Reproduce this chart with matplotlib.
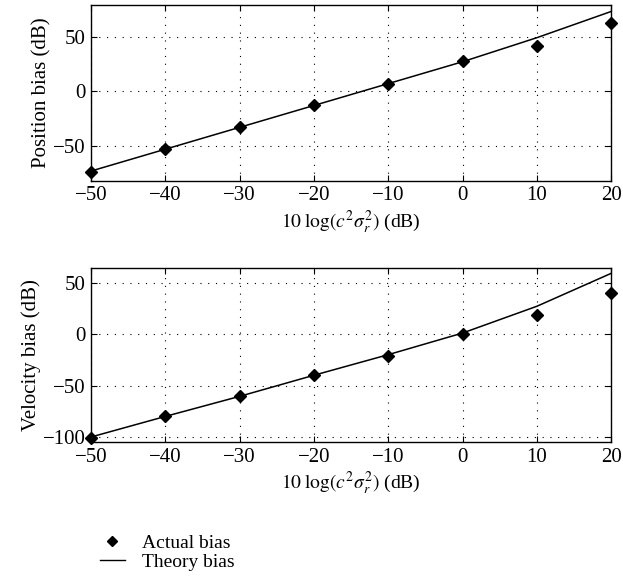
import numpy as np
import matplotlib.pyplot as plt
from matplotlib.lines import Line2D

# noise level in dB
x_db = [-50, -40, -30, -20, -10, 0, 10, 20]

pos_actual = [-73.5, -53, -33, -13, 6.5, 27.5, 41.5, 62.5]
pos_theory = [-73, -53, -33, -13, 7, 27, 49, 73]

vel_actual = [-101, -80, -60.5, -40, -21, 0, 19, 39.5]
vel_theory = [-100, -80, -60.5, -40, -20, 1, 27, 59]

plt.rcParams['font.family'] = ['Liberation Serif', 'DejaVu Serif']
plt.rcParams['mathtext.fontset'] = 'stix'

fig = plt.figure(figsize=(6.23, 5.78), dpi=100)
ax1 = fig.add_axes([0.146, 0.687, 0.835, 0.3045])
ax2 = fig.add_axes([0.146, 0.235, 0.835, 0.301])

xlabel = r'$10\;\log(c^2\sigma_r^2)$ (dB)'
minus = lambda v, p: f'{int(v)}'.replace('-', '\u2212')

def style(ax, ylim, yticks, ylabel):
    ax.set_xlim(-50, 20)
    ax.set_ylim(*ylim)
    ax.set_xticks(x_db)
    ax.set_yticks(yticks)
    ax.grid(True, color='black', linestyle=(0, (1, 6)), linewidth=0.8)
    ax.tick_params(direction='in', top=True, right=True, length=4, width=0.8,
                   labelsize=15, pad=4)
    ax.xaxis.set_major_formatter(plt.FuncFormatter(minus))
    ax.yaxis.set_major_formatter(plt.FuncFormatter(minus))
    for s in ax.spines.values():
        s.set_linewidth(1.0)
    ax.set_xlabel(xlabel, fontsize=14, labelpad=2)
    ax.set_ylabel(ylabel, fontsize=15, labelpad=1)

ax1.plot(x_db, pos_theory, color='black', lw=1.1, clip_on=False, zorder=3)
ax1.plot(x_db, pos_actual, 'D', color='black', ms=6.5, clip_on=False, zorder=4)
style(ax1, (-82, 79), [-50, 0, 50], 'Position bias (dB)')

ax2.plot(x_db, vel_theory, color='black', lw=1.1, clip_on=False, zorder=3)
ax2.plot(x_db, vel_actual, 'D', color='black', ms=6.5, clip_on=False, zorder=4)
style(ax2, (-105, 64), [-100, -50, 0, 50], 'Velocity bias (dB)')

handles = [Line2D([], [], marker='D', color='black', linestyle='none', ms=5),
           Line2D([], [], color='black', lw=1.0)]
fig.legend(handles, ['Actual bias', 'Theory bias'], loc='upper left',
           bbox_to_anchor=(0.16, 0.075), frameon=False, fontsize=14,
           handlelength=1.3, handletextpad=0.9, labelspacing=0.05,
           borderaxespad=0, borderpad=0)

fig.savefig('out.png', dpi=100)
